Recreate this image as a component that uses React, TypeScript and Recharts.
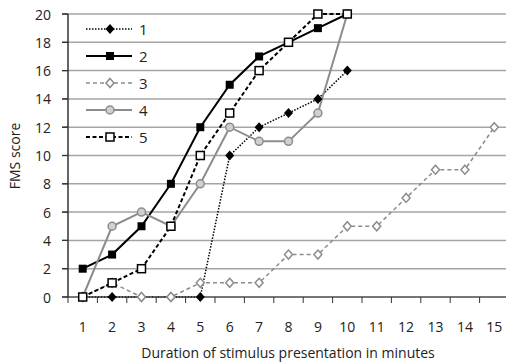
import React from 'react';
import { CartesianGrid, Line, LineChart, ReferenceLine, XAxis, YAxis } from 'recharts';

const minutes = [1, 2, 3, 4, 5, 6, 7, 8, 9, 10, 11, 12, 13, 14, 15];
const series1 = [0, 0, 0, 0, 0, 10, 12, 13, 14, 16];
const series2 = [2, 3, 5, 8, 12, 15, 17, 18, 19, 20];
const series3 = [0, 1, 0, 0, 1, 1, 1, 3, 3, 5, 5, 7, 9, 9, 12];
const series4 = [0, 5, 6, 5, 8, 12, 11, 11, 13, 20];
const series5 = [0, 1, 2, 5, 10, 13, 16, 18, 20, 20];
const yTicks = [0, 2, 4, 6, 8, 10, 12, 14, 16, 18, 20];
const boundaries = [...minutes.map((m) => m - 0.5), 15.5];

const rows = minutes.map((m, i) => ({
  minute: m,
  s1: series1[i],
  s2: series2[i],
  s3: series3[i],
  s4: series4[i],
  s5: series5[i],
}));

const FONT = '"Open Sans", sans-serif';
const TEXT = '#222';
const AXIS = '#333';

type MarkerKind = 'diamondFilled' | 'squareFilled' | 'diamondOpen' | 'circle' | 'squareOpen';

function marker(kind: MarkerKind, cx: number, cy: number, key?: string | number) {
  switch (kind) {
    case 'diamondFilled':
      return (
        <path key={key} d={`M${cx},${cy - 5}L${cx + 4.5},${cy}L${cx},${cy + 5}L${cx - 4.5},${cy}Z`} fill="#000" />
      );
    case 'squareFilled':
      return <rect key={key} x={cx - 4} y={cy - 4} width={8} height={8} fill="#000" />;
    case 'diamondOpen':
      return (
        <path
          key={key}
          d={`M${cx},${cy - 4.5}L${cx + 4},${cy}L${cx},${cy + 4.5}L${cx - 4},${cy}Z`}
          fill="#fff"
          stroke="#8c8c8c"
          strokeWidth={1.5}
        />
      );
    case 'circle':
      return <circle key={key} cx={cx} cy={cy} r={4} fill="#d0d0d0" stroke="#8c8c8c" strokeWidth={1.5} />;
    case 'squareOpen':
      return (
        <rect key={key} x={cx - 4} y={cy - 4} width={8} height={8} fill="#fff" stroke="#000" strokeWidth={1.5} />
      );
  }
}

const SERIES = [
  { key: 's1', name: '1', stroke: '#000', width: 1.5, dash: '1.5 1.5', kind: 'diamondFilled' as MarkerKind },
  { key: 's2', name: '2', stroke: '#000', width: 2, dash: undefined, kind: 'squareFilled' as MarkerKind },
  { key: 's3', name: '3', stroke: '#8c8c8c', width: 1.5, dash: '4 3', kind: 'diamondOpen' as MarkerKind },
  { key: 's4', name: '4', stroke: '#8c8c8c', width: 2, dash: undefined, kind: 'circle' as MarkerKind },
  { key: 's5', name: '5', stroke: '#000', width: 2, dash: '4 2.5', kind: 'squareOpen' as MarkerKind },
];

// legend and axis titles, laid over the chart
function Overlay() {
  return (
    <svg width={506} height={364} style={{ position: 'absolute', left: 0, top: 0, pointerEvents: 'none' }}>
      {SERIES.map((s, i) => {
        const y = 29 + i * 27;
        return (
          <g key={s.key}>
            <line x1={86} x2={132} y1={y} y2={y} stroke={s.stroke} strokeWidth={s.width} strokeDasharray={s.dash} />
            {marker(s.kind, 110, y)}
            <text x={139} y={y} dominantBaseline="central" fontSize={15} fontFamily={FONT} fill={TEXT}>
              {s.name}
            </text>
          </g>
        );
      })}
      <text
        x={14}
        y={156}
        transform="rotate(-90 14 156)"
        textAnchor="middle"
        dominantBaseline="central"
        fontSize={14}
        fontFamily={FONT}
        fill={TEXT}
      >
        FMS score
      </text>
      <text x={288} y={358} textAnchor="middle" fontSize={14} fontFamily={FONT} fill={TEXT}>
        Duration of stimulus presentation in minutes
      </text>
    </svg>
  );
}

// y tick: label plus its own tick mark
function YTick(p: any) {
  return (
    <g>
      <line x1={p.x + 11} x2={p.x + 17} y1={p.y} y2={p.y} stroke={AXIS} strokeWidth={1.2} />
      <text x={p.x} y={p.y} textAnchor="end" dominantBaseline="central" fontSize={14} fontFamily={FONT} fill={TEXT}>
        {p.payload.value}
      </text>
    </g>
  );
}

export default function App() {
  return (
    <div style={{ position: 'absolute', left: 0, top: 0, width: 506, height: 364, background: '#fff' }}>
      <LineChart width={506} height={364} data={rows} margin={{ top: 14, right: -3, bottom: 0, left: 0 }}>
        <CartesianGrid vertical={false} stroke="#a5a5a5" strokeWidth={1.5} />
        <XAxis
          type="number"
          dataKey="minute"
          domain={[0.5, 15.5]}
          ticks={boundaries}
          interval={0}
          tickFormatter={() => ''}
          height={1}
          tickSize={6}
          stroke={AXIS}
        />
        <XAxis
          xAxisId="lab"
          type="number"
          dataKey="minute"
          domain={[0.5, 15.5]}
          ticks={minutes}
          interval={0}
          height={66}
          axisLine={false}
          tickLine={false}
          tickMargin={18}
          tick={{ fontSize: 14, fill: TEXT, fontFamily: FONT }}
        />
        <YAxis
          domain={[0, 20]}
          ticks={yTicks}
          interval={0}
          width={68}
          tickSize={6}
          tickMargin={11}
          axisLine={false}
          tickLine={false}
          tick={<YTick />}
        />
        <ReferenceLine x={0.5} stroke={AXIS} strokeWidth={1.5} />
        {yTicks.map((t) => (
          <ReferenceLine
            key={`t${t}`}
            segment={[
              { x: 0.3, y: t },
              { x: 0.5, y: t },
            ]}
            ifOverflow="visible"
            stroke={AXIS}
            strokeWidth={1.2}
          />
        ))}
        {SERIES.map((s) => (
          <Line
            key={s.key}
            type="linear"
            dataKey={s.key}
            name={s.name}
            stroke={s.stroke}
            strokeWidth={s.width}
            strokeDasharray={s.dash}
            isAnimationActive={false}
            dot={(p: any) =>
              p.cx == null || p.cy == null || p.value == null ? (
                <g key={p.key ?? p.index} />
              ) : (
                marker(s.kind, p.cx, p.cy, p.key ?? p.index)
              )
            }
            activeDot={false}
          />
        ))}
      </LineChart>
      <Overlay />
    </div>
  );
}
